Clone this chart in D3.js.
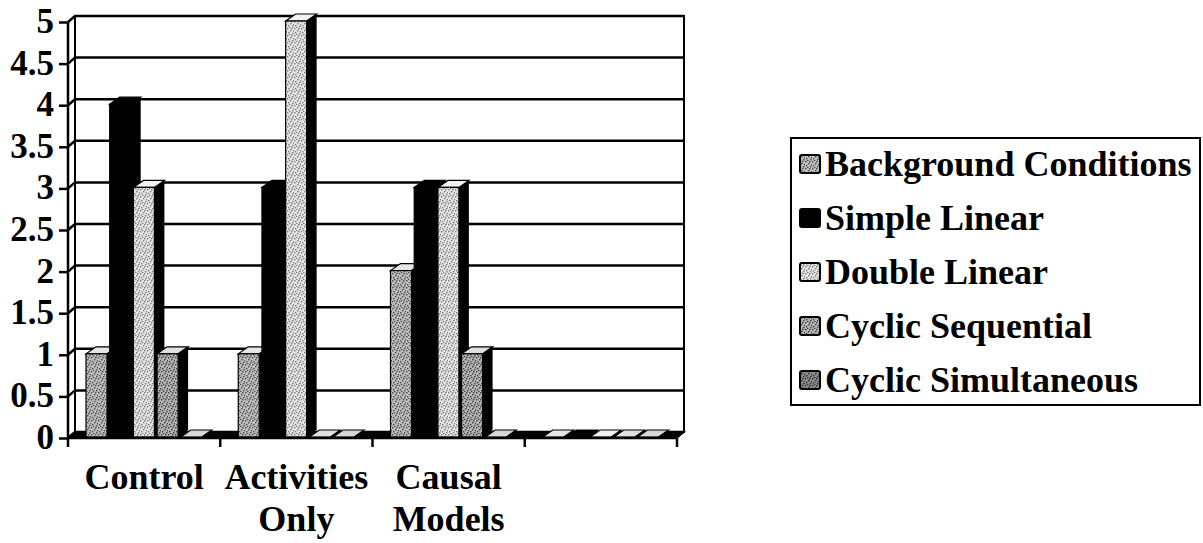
<!DOCTYPE html>
<html>
<head>
<meta charset="utf-8">
<script src="https://cdn.jsdelivr.net/npm/d3@7"></script>
<style>
    body { margin: 0; background: #fff; }
    svg { display: block; }
    text { font-family: "Liberation Serif", "Times New Roman", serif;
           font-weight: bold; fill: #000; }
</style>
</head>
<body>
<svg id="chart" width="1203" height="543"></svg>
<script>
"use strict";

// data
var categories = ["Control", "Activities Only", "Causal Models", "Empty"];
var categoryLines = [["Control"], ["Activities", "Only"],
        ["Causal", "Models"], []];
var seriesNames = ["Background Conditions", "Simple Linear",
        "Double Linear", "Cyclic Sequential", "Cyclic Simultaneous"];
var backgroundConditions = [1, 1, 2, 0];
var simpleLinear = [4, 3, 3, 0];
var doubleLinear = [3, 5, 3, 0];
var cyclicSequential = [1, 0, 1, 0];
var cyclicSimultaneous = [0, 0, 0, 0];
var yTicks = [0, 0.5, 1, 1.5, 2, 2.5, 3, 3.5, 4, 4.5, 5];

var seriesValues = [backgroundConditions, simpleLinear, doubleLinear,
        cyclicSequential, cyclicSimultaneous];

var svg = d3.select("#chart");
var defs = svg.append("defs");

// stipple textures, one per series
var textures = [
    {id: "bc", bg: "#bdbdbd", dot: "#4a4a4a", top: "#e6e6e6"},
    {id: "sl", bg: "#000", dot: "#000", top: "#000"},
    {id: "dl", bg: "#e4e4e4", dot: "#7a7a7a", top: "#f2f2f2"},
    {id: "cs", bg: "#b4b4b4", dot: "#3c3c3c", top: "#e0e0e0"},
    {id: "cm", bg: "#8c8c8c", dot: "#2a2a2a", top: "#d8d8d8"}
];
var dots = [[0, 0], [3, 2], [1, 4], [5, 5], [4, 0], [2, 6], [6, 3]];
textures.forEach(function (t) {
    var p = defs.append("pattern")
        .attr("id", "tex-" + t.id)
        .attr("patternUnits", "userSpaceOnUse")
        .attr("width", 7)
        .attr("height", 7);
    p.append("rect").attr("width", 7).attr("height", 7).attr("fill", t.bg);
    p.selectAll("rect.dot").data(dots).enter().append("rect")
        .attr("class", "dot")
        .attr("x", function (d) { return d[0]; })
        .attr("y", function (d) { return d[1]; })
        .attr("width", 1.4)
        .attr("height", 1.4)
        .attr("fill", t.dot);
});

var left = 68;
var right = 677;
var wallDx = 7; // px
var wallDy = 6; // px
var barDx = 10; // px
var barDy = 7; // px

var y = d3.scaleLinear().domain([0, 5]).range([438, 22]);
var yBar = d3.scaleLinear().domain([0, 5]).range([437, 21]);
var x = d3.scaleBand().domain(categories).range([left, right]);
var xInner = d3.scaleBand().domain(seriesNames)
    .range([18, 18 + 5 * 23.7]);
var barW = 21;

// left side wall and back wall
svg.append("path")
    .attr("d", "M" + left + "," + y(5) + "L" + (left + wallDx) + "," +
            (y(5) - wallDy) + "L" + (left + wallDx) + "," +
            (y(0) - wallDy) + "L" + left + "," + y(0) + "Z")
    .attr("fill", "#fff");
svg.append("rect")
    .attr("x", left + wallDx)
    .attr("y", y(5) - wallDy)
    .attr("width", right - left)
    .attr("height", y(0) - y(5))
    .attr("fill", "#fff")
    .attr("stroke", "#000")
    .attr("stroke-width", 2);

// gridlines over side wall and back wall
svg.selectAll("path.grid").data(yTicks).enter().append("path")
    .attr("class", "grid")
    .attr("d", function (d) {
        return "M" + left + "," + y(d) + "L" + (left + wallDx) + "," +
                (y(d) - wallDy) + "L" + (right + wallDx) + "," +
                (y(d) - wallDy);
    })
    .attr("fill", "none")
    .attr("stroke", "#000")
    .attr("stroke-width", 2.5);

// floor
svg.append("path")
    .attr("d", "M" + left + "," + y(0) + "L" + right + "," + y(0) +
            "L" + (right + wallDx) + "," + (y(0) - wallDy) +
            "L" + (left + wallDx) + "," + (y(0) - wallDy) + "Z")
    .attr("fill", "#000")
    .attr("stroke", "#000")
    .attr("stroke-width", 1.5);

// bars
var bars = [];
categories.forEach(function (c, ci) {
    seriesNames.forEach(function (s, si) {
        bars.push({
            x0: x(c) + xInner(s),
            value: seriesValues[si][ci],
            tex: textures[si]
        });
    });
});

var barGroup = svg.append("g").attr("class", "bars");
bars.forEach(function (b) {
    var g = barGroup.append("g");
    var x0 = b.x0;
    var x1 = b.x0 + barW;
    var yb = yBar(0);
    var yt = yBar(b.value);
    // side face
    g.append("path")
        .attr("d", "M" + x1 + "," + yt + "L" + (x1 + barDx) + "," +
                (yt - barDy) + "L" + (x1 + barDx) + "," + (yb - barDy) +
                "L" + x1 + "," + yb + "Z")
        .attr("fill", "#000");
    // top face
    g.append("path")
        .attr("d", "M" + x0 + "," + yt + "L" + x1 + "," + yt + "L" +
                (x1 + barDx) + "," + (yt - barDy) + "L" + (x0 + barDx) +
                "," + (yt - barDy) + "Z")
        .attr("fill", b.tex.top)
        .attr("stroke", "#000")
        .attr("stroke-width", 1.2);
    // front face
    if (b.value > 0) {
        g.append("rect")
            .attr("x", x0)
            .attr("y", yt)
            .attr("width", barW)
            .attr("height", yb - yt)
            .attr("fill", "url(#tex-" + b.tex.id + ")")
            .attr("stroke", "#000")
            .attr("stroke-width", 1.2);
    }
});

// front vertical axis
svg.append("line")
    .attr("x1", left).attr("x2", left)
    .attr("y1", y(5)).attr("y2", y(0))
    .attr("stroke", "#000")
    .attr("stroke-width", 2.5);
var yAxis = d3.axisLeft(y).tickValues(yTicks).tickSize(9)
    .tickPadding(5).tickFormat(d3.format("~g"));
var yAxisGroup = svg.append("g")
    .attr("transform", "translate(" + left + ",0)")
    .call(yAxis);
yAxisGroup.select(".domain").remove();
yAxisGroup.selectAll(".tick line")
    .attr("stroke", "#000").attr("stroke-width", 2.5);
yAxisGroup.selectAll(".tick text")
    .attr("font-size", 35)
    .attr("font-family", "Liberation Serif, serif")
    .attr("font-weight", "bold")
    .attr("fill", "#000")
    .attr("dy", "0.3em");

// front edge and category ticks
svg.append("line")
    .attr("x1", left).attr("x2", right)
    .attr("y1", y(0)).attr("y2", y(0))
    .attr("stroke", "#000")
    .attr("stroke-width", 2.5);
var boundaries = categories.map(function (c) { return x(c); })
    .concat([right]);
svg.selectAll("line.xtick").data(boundaries).enter().append("line")
    .attr("class", "xtick")
    .attr("x1", function (d) { return d; })
    .attr("x2", function (d) { return d; })
    .attr("y1", y(0))
    .attr("y2", y(0) + 9)
    .attr("stroke", "#000")
    .attr("stroke-width", 2.5);

// category labels
categories.forEach(function (c, ci) {
    var t = svg.append("text")
        .attr("x", x(c) + x.bandwidth() / 2)
        .attr("y", 489)
        .attr("text-anchor", "middle")
        .attr("font-size", 36);
    categoryLines[ci].forEach(function (line, li) {
        t.append("tspan")
            .attr("x", x(c) + x.bandwidth() / 2)
            .attr("dy", li === 0 ? 0 : 42)
            .text(line);
    });
});

// legend
var legend = svg.append("g").attr("class", "legend");
legend.append("rect")
    .attr("x", 791).attr("y", 138)
    .attr("width", 409).attr("height", 267)
    .attr("fill", "#fff")
    .attr("stroke", "#000")
    .attr("stroke-width", 2);
var legendRow = d3.scalePoint().domain(seriesNames).range([164, 380]);
seriesNames.forEach(function (s, si) {
    legend.append("rect")
        .attr("x", 800)
        .attr("y", legendRow(s) - 9)
        .attr("width", 20)
        .attr("height", 18)
        .attr("rx", 2)
        .attr("fill", "url(#tex-" + textures[si].id + ")")
        .attr("stroke", "#000")
        .attr("stroke-width", 2);
    legend.append("text")
        .attr("x", 825)
        .attr("y", legendRow(s))
        .attr("dy", "0.33em")
        .attr("font-size", 36)
        .text(s);
});
</script>
</body>
</html>
